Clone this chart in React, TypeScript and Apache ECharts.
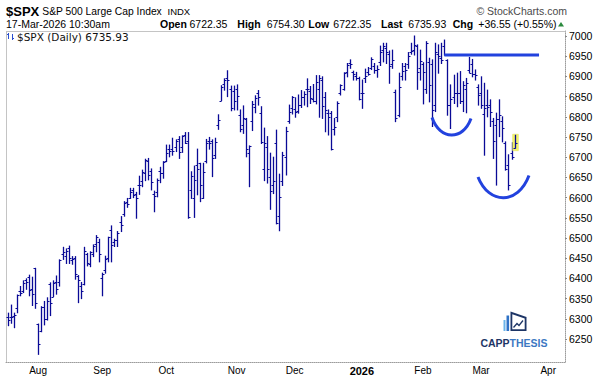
import React, { useEffect, useRef } from "react";
import * as echarts from "echarts";

// ---- calendar (trading days, incl. future empty slots up to the right edge) ----
const HOLIDAYS = ["2025-09-01", "2025-11-27", "2025-12-25", "2026-01-01", "2026-01-19", "2026-02-16", "2026-04-03"];
const SLOT_COUNT = 183;

function buildTradingDays(): string[] {
  const out: string[] = [];
  const d = new Date(Date.UTC(2025, 6, 18));
  while (out.length < SLOT_COUNT) {
    const wd = d.getUTCDay();
    const s = d.toISOString().slice(0, 10);
    if (wd !== 0 && wd !== 6 && HOLIDAYS.indexOf(s) < 0) out.push(s);
    d.setUTCDate(d.getUTCDate() + 1);
  }
  return out;
}
const dates = buildTradingDays();

// ---- OHLC values ----
const opens = [
  6304, 6304, 6306, 6326, 6368, 6370, 6397, 6404, 6375, 6425,
  6287, 6269, 6330, 6300, 6385, 6355, 6390, 6390, 6460, 6455,
  6475, 6445, 6450, 6405, 6380, 6385, 6460, 6435, 6460, 6485,
  6490, 6401, 6420, 6450, 6520, 6490, 6495, 6540, 6560, 6590,
  6600, 6620, 6610, 6630, 6640, 6660, 6690, 6665, 6610, 6615,
  6665, 6660, 6690, 6720, 6720, 6725, 6745, 6725, 6755, 6740,
  6620, 6600, 6680, 6685, 6600, 6690, 6740, 6740, 6705, 6780,
  6840, 6880, 6895, 6870, 6865, 6870, 6805, 6780, 6795, 6710,
  6790, 6825, 6860, 6810, 6670, 6725, 6650, 6630, 6734, 6554,
  6640, 6700, 6790, 6822, 6820, 6815, 6830, 6850, 6870, 6865,
  6845, 6840, 6870, 6890, 6850, 6810, 6810, 6770, 6800, 6860,
  6870, 6910, 6932, 6910, 6900, 6895, 6860, 6895, 6910, 6920,
  6925, 6915, 6935, 6965, 6970, 6955, 6930, 6862, 6804, 6900,
  6925, 6930, 6960, 6965, 6975, 6920, 6930, 6870, 6935, 6930,
  6830, 6955, 6945, 6975, 6940, 6830, 6850, 6860, 6860, 6840,
  6870, 6915, 6930, 6905, 6875, 6860, 6808, 6830, 6830, 6790,
  6780, 6795, 6790, 6735, 6680, 6710, 6722.35,
];
const highs = [
  6314, 6334, 6314, 6359, 6380, 6394, 6399, 6408, 6403, 6425,
  6287, 6330, 6343, 6352, 6389, 6394, 6406, 6446, 6477, 6473,
  6480, 6454, 6454, 6407, 6390, 6477, 6462, 6466, 6483, 6506,
  6497, 6413, 6455, 6502, 6530, 6497, 6516, 6553, 6590, 6598,
  6623, 6623, 6613, 6653, 6668, 6695, 6697, 6671, 6616, 6646,
  6675, 6689, 6730, 6730, 6747, 6743, 6751, 6753, 6761, 6761,
  6664, 6678, 6720, 6685, 6685, 6744, 6749, 6743, 6747, 6805,
  6877, 6894, 6914, 6876, 6876, 6879, 6817, 6827, 6796, 6728,
  6838, 6852, 6865, 6825, 6772, 6751, 6710, 6700, 6767, 6658,
  6712, 6774, 6829, 6850, 6847, 6854, 6865, 6862, 6894, 6875,
  6880, 6902, 6902, 6899, 6860, 6817, 6813, 6796, 6837, 6879,
  6909, 6932, 6941, 6913, 6910, 6898, 6891, 6918, 6922, 6946,
  6932, 6926, 6975, 6982, 6982, 6963, 6965, 6866, 6908, 6932,
  6932, 6959, 6982, 7000, 6978, 6965, 6934, 6986, 6945, 6941,
  6982, 6978, 6982, 6990, 6941, 6879, 6903, 6908, 6912, 6887,
  6895, 6947, 6942, 6916, 6879, 6899, 6883, 6866, 6842, 6796,
  6809, 6842, 6800, 6738, 6706, 6736, 6754.30,
];
const lows = [
  6283, 6289, 6278, 6315, 6357, 6365, 6373, 6357, 6333, 6326,
  6212, 6268, 6285, 6297, 6308, 6355, 6361, 6381, 6447, 6437,
  6437, 6435, 6398, 6340, 6350, 6384, 6431, 6429, 6454, 6466,
  6441, 6357, 6413, 6441, 6441, 6479, 6479, 6516, 6554, 6576,
  6598, 6600, 6549, 6608, 6627, 6642, 6644, 6619, 6565, 6602,
  6637, 6648, 6689, 6701, 6705, 6714, 6697, 6712, 6734, 6549,
  6598, 6551, 6607, 6590, 6598, 6686, 6720, 6652, 6697, 6769,
  6840, 6866, 6850, 6815, 6817, 6817, 6763, 6759, 6701, 6627,
  6766, 6810, 6829, 6734, 6642, 6636, 6571, 6610, 6535, 6518,
  6630, 6656, 6784, 6807, 6799, 6809, 6823, 6829, 6825, 6833,
  6837, 6832, 6799, 6796, 6763, 6755, 6718, 6755, 6788, 6854,
  6866, 6899, 6920, 6891, 6891, 6842, 6821, 6885, 6903, 6917,
  6908, 6898, 6927, 6936, 6932, 6883, 6920, 6788, 6800, 6891,
  6891, 6920, 6955, 6953, 6868, 6891, 6832, 6858, 6837, 6776,
  6813, 6908, 6932, 6953, 6804, 6771, 6833, 6825, 6833, 6813,
  6810, 6909, 6899, 6891, 6829, 6821, 6705, 6800, 6776, 6697,
  6631, 6751, 6738, 6668, 6619, 6695, 6722.35,
];
const closes = [
  6297, 6305, 6309, 6358, 6363, 6388, 6390, 6371, 6362, 6339,
  6238, 6329, 6299, 6345, 6340, 6389, 6374, 6445, 6466, 6469,
  6450, 6449, 6411, 6396, 6370, 6467, 6439, 6465, 6481, 6502,
  6460, 6412, 6448, 6502, 6482, 6495, 6512, 6532, 6587, 6584,
  6615, 6606, 6600, 6631, 6664, 6693, 6656, 6638, 6605, 6643,
  6661, 6688, 6711, 6715, 6716, 6740, 6714, 6753, 6735, 6552,
  6654, 6644, 6671, 6630, 6664, 6735, 6735, 6699, 6738, 6792,
  6875, 6891, 6891, 6822, 6840, 6851, 6771, 6796, 6720, 6728,
  6832, 6846, 6850, 6737, 6734, 6672, 6617, 6642, 6538, 6602,
  6705, 6766, 6813, 6849, 6812, 6829, 6849, 6857, 6870, 6846,
  6840, 6886, 6895, 6827, 6816, 6800, 6721, 6775, 6834, 6878,
  6909, 6928, 6930, 6905, 6896, 6845, 6858, 6902, 6906, 6942,
  6916, 6918, 6961, 6975, 6961, 6925, 6940, 6796, 6875, 6913,
  6916, 6950, 6962, 6978, 6912, 6939, 6912, 6982, 6878, 6818,
  6960, 6950, 6940, 6953, 6830, 6845, 6858, 6860, 6838, 6878,
  6883, 6909, 6907, 6903, 6854, 6829, 6823, 6825, 6813, 6739,
  6794, 6805, 6772, 6672, 6630, 6699.38, 6735.93,
];

// ---- axis values ----
const yTicks = [6250, 6300, 6350, 6400, 6450, 6500, 6550, 6600, 6650, 6700, 6750, 6800, 6850, 6900, 6950, 7000];
const Y_MIN = 6193.1;
const Y_MAX = 7012.4;
const MONTHS = ["", "Jan", "Feb", "Mar", "Apr", "May", "Jun", "Jul", "Aug", "Sep", "Oct", "Nov", "Dec"];

// ---- annotation values ----
const RES_LEVEL = 6953;
const RES_FROM = 143;
const RES_TO = 174;

// ---- header texts ----
const QUOTE_FIELDS = [
  { label: "Open", value: "6722.35", lx: 160, vx: 189.5 },
  { label: "High", value: "6754.30", lx: 237.3, vx: 266.7 },
  { label: "Low", value: "6722.35", lx: 308.3, vx: 333.3 },
  { label: "Last", value: "6735.93", lx: 381, vx: 408.3 },
  { label: "Chg", value: "+36.55 (+0.55%)", lx: 452.7, vx: 478.3 },
];

const BAR_COLOR = "#0a0a96";
const ANN_COLOR = "#2242de";
const LAST_INDEX = closes.length - 1;
const SANS = '"Liberation Sans", Arial, sans-serif';

export default function App() {
  const ref = useRef<HTMLDivElement | null>(null);

  useEffect(() => {
    if (!ref.current) return;
    const chart = echarts.init(ref.current, undefined, { renderer: "svg" });

    const monthStart = dates.map((d, i) => i > 0 && d.slice(5, 7) !== dates[i - 1].slice(5, 7));

    const renderItem = (params: any, api: any) => {
      const i = api.value(0);
      const po = api.coord([i, api.value(1)]);
      const ph = api.coord([i, api.value(2)]);
      const pl = api.coord([i, api.value(3)]);
      const pc = api.coord([i, api.value(4)]);
      const x = Math.round(ph[0]) + 0.5;
      const children: any[] = [];
      if (i === LAST_INDEX) {
        children.push({
          type: "rect",
          shape: { x: x - 2.8, y: ph[1] - 1, width: 5.6, height: pl[1] - ph[1] + 3.5 },
          style: { fill: "#f4f46a", stroke: "#e2e25a", lineWidth: 0.6 },
        });
      }
      children.push({
        type: "line",
        shape: { x1: x, y1: ph[1] - 0.5, x2: x, y2: pl[1] + 0.5 },
        style: { stroke: BAR_COLOR, lineWidth: 1.3 },
      });
      children.push({
        type: "line",
        shape: { x1: x - 2, y1: Math.round(po[1]) + 0.5, x2: x, y2: Math.round(po[1]) + 0.5 },
        style: { stroke: BAR_COLOR, lineWidth: 1 },
      });
      children.push({
        type: "line",
        shape: { x1: x, y1: Math.round(pc[1]) + 0.5, x2: x + 2, y2: Math.round(pc[1]) + 0.5 },
        style: { stroke: BAR_COLOR, lineWidth: 1 },
      });
      return { type: "group", children };
    };

    const txt = (text: string, x: number, y: number, font: string, fill = "#000", align = "left") => ({
      type: "text",
      silent: true,
      z: 20,
      style: { text, x, y, font, fill, textAlign: align, textVerticalAlign: "middle" },
    });

    const header: any[] = [
      txt("$SPX", 6, 11, "bold 13px " + SANS),
      txt("S&P 500 Large Cap Index", 42.3, 11.5, "10.3px " + SANS),
      txt("INDX", 167.5, 11.5, "9.5px " + SANS),
      txt("© StockCharts.com", 567, 10.5, "10.5px " + SANS, "#4a4a4a", "right"),
      txt("17-Mar-2026 10:30am", 6, 24, "10.5px " + SANS),
    ];
    QUOTE_FIELDS.forEach((f) => {
      header.push(txt(f.label, f.lx, 24, "bold 10.5px " + SANS));
      header.push(txt(f.value, f.vx, 24, "10.5px " + SANS));
    });
    header.push({
      type: "polygon",
      silent: true,
      z: 20,
      shape: { points: [[558, 26.5], [564, 26.5], [561, 22]] },
      style: { fill: "#2b8a3e" },
    });

    const frame: any[] = [
      { type: "line", silent: true, z: 1, shape: { x1: 6.5, y1: 31, x2: 6.5, y2: 362 }, style: { stroke: "#c4c4c4", lineWidth: 1 } },
      { type: "line", silent: true, z: 1, shape: { x1: 6.5, y1: 31.5, x2: 565.5, y2: 31.5 }, style: { stroke: "#c4c4c4", lineWidth: 1 } },
    ];

    const legend: any[] = [
      { type: "line", silent: true, z: 20, shape: { x1: 8.5, y1: 33, x2: 8.5, y2: 39 }, style: { stroke: "#2a4fd0", lineWidth: 1 } },
      { type: "line", silent: true, z: 20, shape: { x1: 7, y1: 34.5, x2: 8.5, y2: 34.5 }, style: { stroke: "#2a4fd0", lineWidth: 1 } },
      { type: "line", silent: true, z: 20, shape: { x1: 12.5, y1: 34, x2: 12.5, y2: 40 }, style: { stroke: "#2a4fd0", lineWidth: 1 } },
      { type: "line", silent: true, z: 20, shape: { x1: 12.5, y1: 38.5, x2: 14, y2: 38.5 }, style: { stroke: "#2a4fd0", lineWidth: 1 } },
      txt("$SPX (Daily) 6735.93", 17, 36.5, '10.5px "DejaVu Sans", sans-serif', "#111"),
    ];

    const arcs: any[] = [
      {
        type: "bezierCurve",
        silent: true,
        z: 15,
        shape: { x1: 432, y1: 117.5, cpx1: 440, cpy1: 140.7, cpx2: 463, cpy2: 140.7, x2: 471, y2: 118.5 },
        style: { stroke: ANN_COLOR, lineWidth: 3, fill: null },
      },
      {
        type: "bezierCurve",
        silent: true,
        z: 15,
        shape: { x1: 478, y1: 177, cpx1: 489, cpy1: 204.9, cpx2: 518, cpy2: 204.9, x2: 529, y2: 175.5 },
        style: { stroke: ANN_COLOR, lineWidth: 3, fill: null },
      },
    ];

    const logo: any[] = [
      { type: "rect", silent: true, z: 10, shape: { x: 503.5, y: 320, width: 2, height: 11 }, style: { fill: "#6bb4ea" } },
      { type: "rect", silent: true, z: 10, shape: { x: 506.5, y: 315.5, width: 2.6, height: 15.5 }, style: { fill: "#2f72c6" } },
      {
        type: "polygon",
        silent: true,
        z: 10,
        shape: { points: [[510.5, 311.5], [526.5, 317], [526.5, 331], [510.5, 331]] },
        style: { fill: "#1d3566" },
      },
      {
        type: "polygon",
        silent: true,
        z: 11,
        shape: { points: [[512.3, 314.3], [524.7, 318.5], [524.7, 329.3], [512.3, 329.3]] },
        style: { fill: "#ffffff" },
      },
      {
        type: "polyline",
        silent: true,
        z: 12,
        shape: { points: [[513.5, 327.5], [517, 323.5], [519, 325.5], [523, 320.5]] },
        style: { stroke: "#1d3566", lineWidth: 1.3, fill: null },
      },
      {
        type: "text",
        silent: true,
        z: 12,
        style: {
          text: "{a|CAPP}{b|THESIS}",
          x: 514,
          y: 342.5,
          textAlign: "center",
          textVerticalAlign: "middle",
          rich: {
            a: { fontFamily: SANS, fontWeight: "bold", fontSize: 10.5, fill: "#1d3566", color: "#1d3566" },
            b: { fontFamily: SANS, fontWeight: "bold", fontSize: 10.5, fill: "#3d78c2", color: "#3d78c2" },
          },
        },
      },
    ];

    const option: any = {
      animation: false,
      backgroundColor: "#ffffff",
      textStyle: { fontFamily: SANS },
      grid: { left: 6, right: 34, top: 31, bottom: 16, containLabel: false },
      xAxis: {
        type: "category",
        data: dates,
        boundaryGap: true,
        axisLine: { show: true, lineStyle: { color: "#9c9c9c", type: "dotted", width: 1 } },
        axisTick: { show: false },
        splitLine: { show: false },
        axisLabel: {
          interval: (i: number) => monthStart[i],
          hideOverlap: false,
          color: "#000",
          fontSize: 10,
          margin: 3,
          formatter: (v: string) => {
            const m = parseInt(v.slice(5, 7), 10);
            return m === 1 ? "{y|" + v.slice(0, 4) + "}" : MONTHS[m];
          },
          rich: { y: { fontWeight: "bold", fontSize: 11, color: "#000" } },
        },
      },
      yAxis: {
        type: "value",
        position: "right",
        min: Y_MIN,
        max: Y_MAX,
        axisLine: { show: true, lineStyle: { color: "#9c9c9c", type: "dotted", width: 1 } },
        axisTick: { show: true, inside: false, length: 2, customValues: yTicks, lineStyle: { color: "#8a8a8a" } },
        axisLabel: {
          customValues: yTicks,
          color: "#000",
          fontSize: 10.5,
          margin: 4,
          formatter: (v: number) => String(Math.round(v)),
        },
        splitLine: { show: false },
      },
      series: [
        {
          type: "custom",
          renderItem,
          data: opens.map((o, i) => [i, o, highs[i], lows[i], closes[i]]),
          encode: { x: 0, y: [1, 2, 3, 4] },
          clip: true,
          z: 3,
        },
        {
          type: "line",
          data: [
            [dates[RES_FROM], RES_LEVEL],
            [dates[RES_TO], RES_LEVEL],
          ],
          symbol: "none",
          silent: true,
          lineStyle: { color: ANN_COLOR, width: 3 },
          z: 6,
        },
      ],
      graphic: { elements: [...frame, ...header, ...legend, ...arcs, ...logo] },
    };

    chart.setOption(option);
    return () => {
      chart.dispose();
    };
  }, []);

  return (
    <div
      ref={ref}
      style={{ position: "fixed", left: 0, top: 0, width: 599, height: 378, background: "#fff" }}
    />
  );
}
